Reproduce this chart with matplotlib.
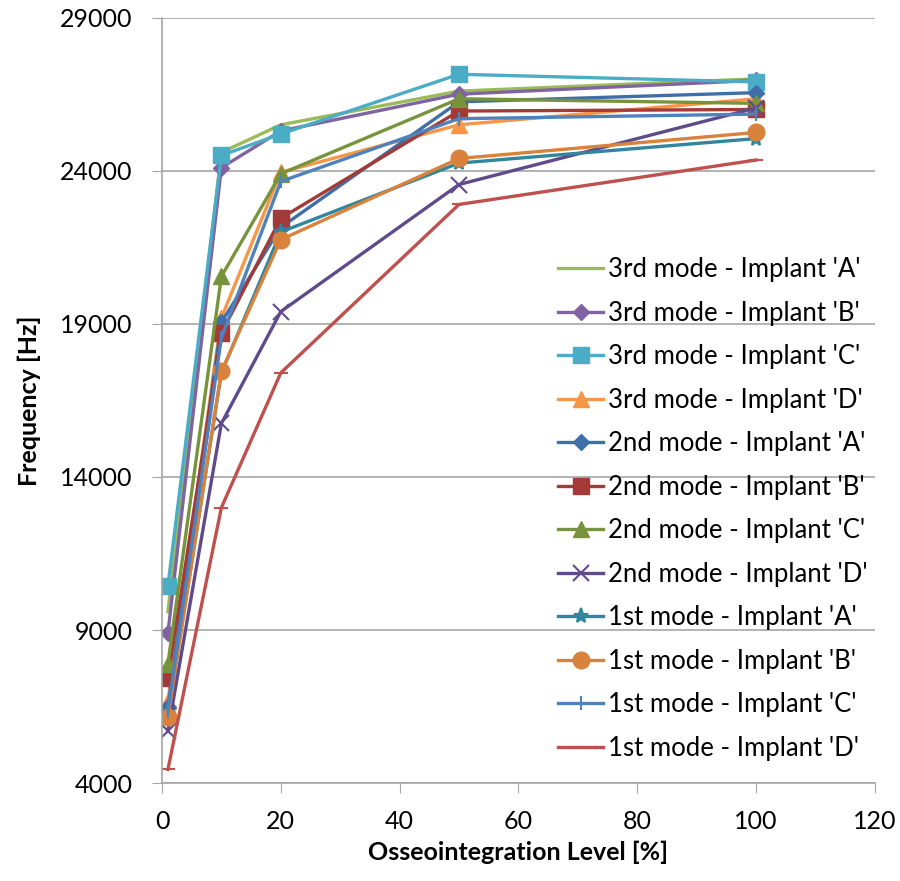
import matplotlib.pyplot as plt

plt.rcParams['font.family'] = ['Lato', 'DejaVu Sans']

level = [1, 10, 20, 50, 100]

names = ["3rd mode - Implant 'A'", "3rd mode - Implant 'B'", "3rd mode - Implant 'C'",
         "3rd mode - Implant 'D'", "2nd mode - Implant 'A'", "2nd mode - Implant 'B'",
         "2nd mode - Implant 'C'", "2nd mode - Implant 'D'", "1st mode - Implant 'A'",
         "1st mode - Implant 'B'", "1st mode - Implant 'C'", "1st mode - Implant 'D'"]

m3_a = [9600, 24600, 25500, 26600, 27000]
m3_b = [8900, 24100, 25300, 26500, 26950]
m3_c = [10450, 24500, 25200, 27150, 26900]
m3_d = [6700, 19200, 23950, 25500, 26350]
m2_a = [6500, 19050, 22150, 26250, 26550]
m2_b = [7450, 18700, 22450, 25950, 26000]
m2_c = [7900, 20550, 23900, 26350, 26200]
m2_d = [5700, 15750, 19400, 23550, 26050]
m1_a = [6300, 17400, 22000, 24250, 25050]
m1_b = [6150, 17450, 21750, 24400, 25250]
m1_c = [6350, 18550, 23650, 25700, 25850]
m1_d = [4450, 13000, 17400, 22900, 24350]

series = [m3_a, m3_b, m3_c, m3_d, m2_a, m2_b, m2_c, m2_d, m1_a, m1_b, m1_c, m1_d]
colors = ['#9BBB59', '#8064A2', '#4BACC6', '#F79646', '#3F6FA8', '#A33A37',
          '#77933C', '#5F4B8B', '#31859C', '#D9823B', '#4F81BD', '#C0504D']
markers = [None, 'D', 's', '^', 'D', 's', '^', 'x', '*', 'o', '|', '_']
msizes = [0, 8, 12, 11, 8, 12, 11, 12, 11, 12, 10, 10]

fig = plt.figure(figsize=(9, 8.81), dpi=100)
ax = fig.add_axes([0.18, 0.111, 0.792, 0.869])

for vals, name, c, mk, ms in zip(series, names, colors, markers, msizes):
    ax.plot(level, vals, color=c, lw=2.4, marker=mk, markersize=ms,
            markeredgewidth=1.5 if mk in ('x', '*', '|', '_') else 1,
            markeredgecolor=c, label=name)

ax.set_xlim(0, 120)
ax.set_ylim(4000, 29000)
ax.set_xticks(range(0, 121, 20))
ax.set_yticks(range(4000, 29001, 5000))
ax.yaxis.grid(True, color='#A6A6A6', lw=1.2)
ax.set_axisbelow(True)
for s in ['top', 'right']:
    ax.spines[s].set_visible(False)
for s in ['left', 'bottom']:
    ax.spines[s].set_color('#A6A6A6')
    ax.spines[s].set_linewidth(1.2)
ax.tick_params(colors='#A6A6A6', labelcolor='black', labelsize=18, length=7)
ax.tick_params(axis='x', pad=12)
ax.tick_params(axis='y', pad=14)

ax.set_xlabel('Osseointegration Level [%]', fontsize=18, fontweight='bold', labelpad=6)
ax.set_ylabel('Frequency [Hz]', fontsize=18, fontweight='bold', labelpad=14)

ax.legend(loc='upper left', bbox_to_anchor=(0.556, 0.687), frameon=False, fontsize=18.5,
          handlelength=1.75, labelspacing=0.72, handletextpad=0.2, borderaxespad=0,
          borderpad=0)

fig.savefig('out.png', dpi=100)
